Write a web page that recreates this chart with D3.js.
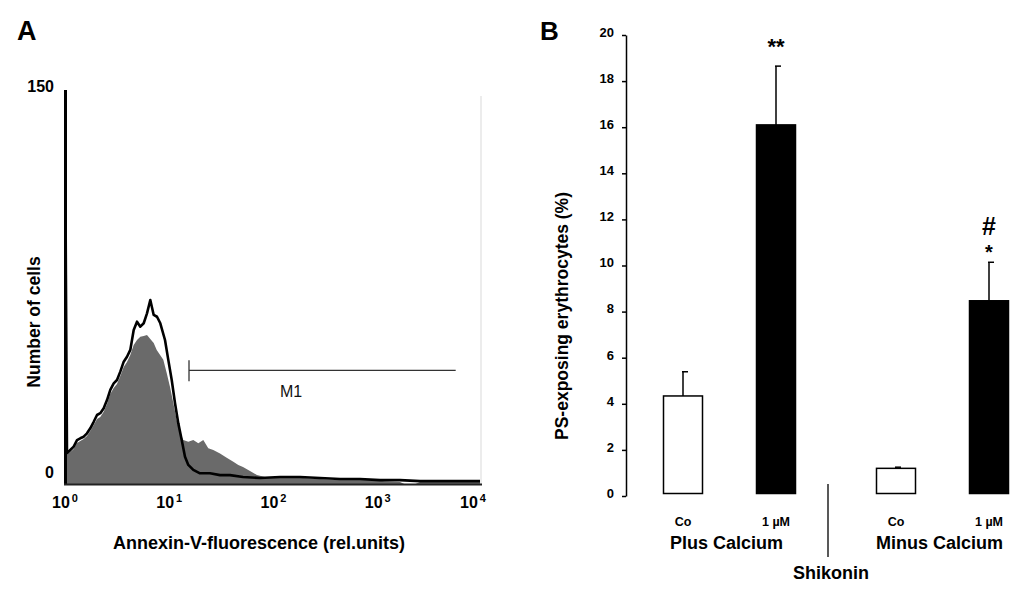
<!DOCTYPE html>
<html>
<head>
<meta charset="utf-8">
<script src="https://cdn.jsdelivr.net/npm/d3@7"></script>
<style>
  body { margin: 0; background: #fff; }
  text { font-family: "Liberation Sans", Arial, sans-serif; }
</style>
</head>
<body>
<script>
// page size
var w = 1024;
var h = 597;

// ---- panel A: annexin-V histogram (fluorescence in rel. units, counts) ----
var controlFluor = [1.0, 1.02, 1.045, 1.124, 1.212, 1.304, 1.402, 1.511, 1.626, 1.748, 1.885,
  2.028, 2.181, 2.351, 2.529, 2.720, 2.932, 3.153, 3.392, 3.658, 3.933, 4.230, 4.560,
  4.905, 5.277, 5.688, 6.117, 6.580, 7.093, 7.630, 8.207, 9.105, 9.792, 10.56, 11.36,
  12.22, 13.17, 14.16, 15.23, 17.01, 19.72, 24.60, 30.68, 38.25, 50.98, 74.2, 115.5,
  179.6, 279.3, 434.5, 675.6, 1051, 1635, 2543, 3956, 6152, 9568];
var controlCount = [148, 80, 11.7, 13.0, 14.3, 16.8, 17.5, 18.1, 19.4, 21.3, 23.8,
  26.4, 27.1, 29.0, 32.1, 36.0, 38.5, 39.8, 43.0, 46.8, 48.7, 51.3, 58.9,
  62.1, 60.2, 61.5, 65.3, 70.4, 64.7, 64.0, 61.5, 55.1, 47.5, 39.8, 30.9,
  23.2, 16.8, 10.4, 7.3, 5.4, 4.1, 4.1, 3.4, 3.4, 2.7, 2.3, 2.7,
  2.7, 2.3, 1.9, 1.9, 1.5, 1.5, 1.1, 1.1, 1.1, 1.1];

var shikoninFluor = [1.0, 1.02, 1.045, 1.124, 1.212, 1.304, 1.402, 1.511, 1.626, 1.748, 1.885,
  2.028, 2.181, 2.351, 2.529, 2.720, 2.932, 3.153, 3.392, 3.658, 3.933, 4.230, 4.560,
  4.905, 5.277, 5.688, 6.117, 6.580, 7.093, 7.581, 8.770, 9.452, 10.17, 10.94, 11.79,
  12.68, 13.64, 15.23, 17.01, 19.00, 21.21, 23.69, 26.45, 30.68, 35.57, 41.17, 45.97,
  50.98, 59.5, 69.4, 82.9, 103.4, 144, 192, 279, 406.5, 605, 843, 1173, 1635, 1800,
  2039, 2300, 2543, 3956, 6152, 9568];
var shikoninCount = [80, 40, 11.1, 12.2, 13.4, 15.7, 16.5, 17.2, 18.4, 20.3, 22.6,
  24.9, 25.6, 27.6, 30.6, 34.4, 36.7, 38.3, 41.3, 44.8, 46.7, 49.4, 53.2,
  55.1, 56.3, 56.6, 57.0, 55.5, 54.0, 51.3, 47.5, 42.5, 37.1, 31.0, 24.5,
  19.5, 16.8, 16.2, 16.8, 15.6, 16.8, 13.7, 13.0, 11.7, 10.0, 8.5, 7.3,
  6.5, 5.0, 3.4, 2.7, 2.3, 2.3, 2.3, 1.9, 1.5, 1.5, 1.5, 1.1, 0.8, 0,
  0, 0, 0.8, 1.1, 0.9, 1.1];

var countTicks = [0, 150];
var decadeTicks = [1, 10, 100, 1000, 10000];
var gateM1 = [15.47, 5593];   // marker range
var gateM1Level = 43.5;       // counts level of marker

// ---- panel B: PS-exposing erythrocytes ----
var conditions = ["Co", "1 µM"];
var groups = ["Plus Calcium", "Minus Calcium"];
var meanPlus = [4.34, 16.1];
var semPlus = [1.05, 2.55];
var meanMinus = [1.2, 8.47];
var semMinus = [0.05, 1.67];
var starMarks = [["", "**"], ["", "*"]];
var hashMarks = [["", ""], ["", "#"]];
var percentTicks = [0, 2, 4, 6, 8, 10, 12, 14, 16, 18, 20];

var svg = d3.select("body").append("svg")
  .attr("width", w)
  .attr("height", h);

// =================== panel A ===================
var xA = d3.scaleLog().domain([1, 10000]).range([65, 482]);
var yA = d3.scaleLinear().domain([0, 150]).range([484, 92]);

svg.append("text")
  .attr("x", 17).attr("y", 40)
  .style("font-size", "27px").style("font-weight", "bold")
  .text("A");

svg.append("clipPath").attr("id", "plotA")
  .append("rect").attr("x", 65).attr("y", 96).attr("width", 418).attr("height", 389);

var shikoninData = shikoninFluor.map(function(f, i) { return {f: f, c: shikoninCount[i]}; });
var controlData = controlFluor.map(function(f, i) { return {f: f, c: controlCount[i]}; });

// right frame line
svg.append("line")
  .attr("x1", 481).attr("x2", 481)
  .attr("y1", 96).attr("y2", 484)
  .style("stroke", "#d9d9d9").style("stroke-width", 1);

var area = d3.area()
  .x(function(d) { return xA(d.f); })
  .y0(yA(0))
  .y1(function(d) { return yA(d.c); });

svg.append("path")
  .datum(shikoninData)
  .attr("clip-path", "url(#plotA)")
  .attr("d", area)
  .style("fill", "#6a6a6a");

var line = d3.line()
  .x(function(d) { return xA(d.f); })
  .y(function(d) { return yA(d.c); });

svg.append("path")
  .datum(controlData)
  .attr("clip-path", "url(#plotA)")
  .attr("d", line)
  .style("fill", "none")
  .style("stroke", "#000")
  .style("stroke-width", 2.6)
  .style("stroke-linejoin", "round");

// axes of panel A
svg.append("line")
  .attr("x1", 65.5).attr("x2", 65.5)
  .attr("y1", 90).attr("y2", 485)
  .style("stroke", "#000").style("stroke-width", 3);
svg.append("line")
  .attr("x1", 64).attr("x2", 482)
  .attr("y1", 484.5).attr("y2", 484.5)
  .style("stroke", "#222").style("stroke-width", 2);

svg.selectAll(".countTick")
  .data(countTicks).enter()
  .append("text")
  .attr("class", "countTick")
  .attr("x", 54)
  .attr("y", function(d) { return d === 0 ? yA(d) - 6 : yA(d); })
  .attr("text-anchor", "end")
  .style("font-size", "16px").style("font-weight", "bold")
  .text(function(d) { return d; });

var decadeLabels = svg.selectAll(".decade")
  .data(decadeTicks).enter()
  .append("text")
  .attr("class", "decade")
  .attr("x", function(d, i) { return xA(d) - (i === 4 ? 9 : 0); })
  .attr("y", 508)
  .attr("text-anchor", "middle")
  .style("font-size", "16px").style("font-weight", "bold");
decadeLabels.append("tspan").text("10");
decadeLabels.append("tspan")
  .attr("dy", -6).attr("dx", 2)
  .style("font-size", "11px")
  .text(function(d) { return Math.round(Math.log10(d)); });

svg.append("text")
  .attr("x", 259).attr("y", 549)
  .attr("text-anchor", "middle")
  .style("font-size", "18px").style("font-weight", "bold")
  .text("Annexin-V-fluorescence (rel.units)");

svg.append("text")
  .attr("transform", "translate(39.5,322) rotate(-90)")
  .attr("text-anchor", "middle")
  .style("font-size", "17.5px").style("font-weight", "bold")
  .text("Number of cells");

// M1 marker
svg.append("line")
  .attr("x1", xA(gateM1[0])).attr("x2", xA(gateM1[1]))
  .attr("y1", yA(gateM1Level)).attr("y2", yA(gateM1Level))
  .style("stroke", "#333").style("stroke-width", 1.3);
svg.append("line")
  .attr("x1", xA(gateM1[0])).attr("x2", xA(gateM1[0]))
  .attr("y1", yA(gateM1Level) - 10).attr("y2", yA(gateM1Level) + 11)
  .style("stroke", "#333").style("stroke-width", 1.3);
svg.append("text")
  .attr("x", 291).attr("y", 397)
  .attr("text-anchor", "middle")
  .style("font-size", "16px")
  .style("fill", "#111")
  .text("M1");

// =================== panel B ===================
var yB = d3.scaleLinear().domain([0, 20]).range([496, 35]);
var xGroup = d3.scalePoint().domain(groups).range([729.5, 942.5]);
var xCond = d3.scalePoint().domain(conditions).range([-46.5, 46.5]);
var barW = 39;

svg.append("text")
  .attr("x", 540).attr("y", 40)
  .style("font-size", "26px").style("font-weight", "bold")
  .text("B");

var axisB = svg.append("g")
  .attr("transform", "translate(626,0)")
  .call(d3.axisLeft(yB).tickValues(percentTicks).tickSize(4).tickSizeOuter(0).tickPadding(8));
axisB.select(".domain").style("stroke-width", 1.5);
axisB.selectAll(".tick line").style("stroke-width", 1.5);
axisB.selectAll(".tick text")
  .attr("dy", "0.1em")
  .style("font-family", "'Liberation Sans', Arial, sans-serif")
  .style("font-size", "13px").style("font-weight", "bold");

svg.append("text")
  .attr("transform", "translate(568,316) rotate(-90)")
  .attr("text-anchor", "middle")
  .style("font-size", "17.5px").style("font-weight", "bold")
  .text("PS-exposing erythrocytes (%)");

var bars = [];
groups.forEach(function(g, gi) {
  var means = gi === 0 ? meanPlus : meanMinus;
  var sems = gi === 0 ? semPlus : semMinus;
  conditions.forEach(function(c, ci) {
    bars.push({group: g, cond: c, ci: ci, mean: means[ci], sem: sems[ci],
      star: starMarks[gi][ci], hash: hashMarks[gi][ci]});
  });
});
var cx = function(d) { return xGroup(d.group) + xCond(d.cond); };

// error bars
svg.selectAll(".err")
  .data(bars).enter()
  .append("line")
  .attr("class", "err")
  .attr("x1", cx).attr("x2", cx)
  .attr("y1", function(d) { return yB(d.mean); })
  .attr("y2", function(d) { return yB(d.mean + d.sem); })
  .style("stroke", "#000").style("stroke-width", 1.5);
svg.selectAll(".cap")
  .data(bars).enter()
  .append("line")
  .attr("class", "cap")
  .attr("x1", function(d) { return cx(d) - 1; })
  .attr("x2", function(d) { return cx(d) + 5; })
  .attr("y1", function(d) { return yB(d.mean + d.sem); })
  .attr("y2", function(d) { return yB(d.mean + d.sem); })
  .style("stroke", "#000").style("stroke-width", 1.5);

svg.selectAll(".bar")
  .data(bars).enter()
  .append("rect")
  .attr("class", "bar")
  .attr("x", function(d) { return cx(d) - barW / 2; })
  .attr("y", function(d) { return yB(d.mean); })
  .attr("width", barW)
  .attr("height", function(d) { return yB(0) - 2.5 - yB(d.mean); })
  .style("fill", function(d) { return d.ci === 0 ? "#fff" : "#000"; })
  .style("stroke", "#000")
  .style("stroke-width", 1.5);

// significance marks
svg.selectAll(".star")
  .data(bars.filter(function(d) { return d.star; })).enter()
  .append("text")
  .attr("class", "star")
  .attr("x", cx)
  .attr("y", function(d) { return yB(d.mean + d.sem) - (d.star.length > 1 ? 12 : 3); })
  .attr("text-anchor", "middle")
  .style("font-size", function(d) { return d.star.length > 1 ? "22px" : "20px"; })
  .style("font-weight", "bold")
  .text(function(d) { return d.star; });
svg.selectAll(".hash")
  .data(bars.filter(function(d) { return d.hash; })).enter()
  .append("text")
  .attr("class", "hash")
  .attr("x", cx)
  .attr("y", function(d) { return yB(d.mean + d.sem) - 27; })
  .attr("text-anchor", "middle")
  .style("font-size", "25px")
  .style("font-weight", "bold")
  .text(function(d) { return d.hash; });

// category labels
svg.selectAll(".cond")
  .data(bars).enter()
  .append("text")
  .attr("class", "cond")
  .attr("x", cx)
  .attr("y", 526)
  .attr("text-anchor", "middle")
  .style("font-size", "12.5px").style("font-weight", "bold")
  .text(function(d) { return d.cond; });

svg.selectAll(".group")
  .data(groups).enter()
  .append("text")
  .attr("class", "group")
  .attr("x", function(d) { return xGroup(d) - 3; })
  .attr("y", 549)
  .attr("text-anchor", "middle")
  .style("font-size", "18px").style("font-weight", "bold")
  .text(function(d) { return d; });

// separator and treatment label
svg.append("line")
  .attr("x1", 828).attr("x2", 828)
  .attr("y1", 484).attr("y2", 557)
  .style("stroke", "#222").style("stroke-width", 1.5);
svg.append("text")
  .attr("x", 831).attr("y", 579)
  .attr("text-anchor", "middle")
  .style("font-size", "18px").style("font-weight", "bold")
  .text("Shikonin");
</script>
</body>
</html>
